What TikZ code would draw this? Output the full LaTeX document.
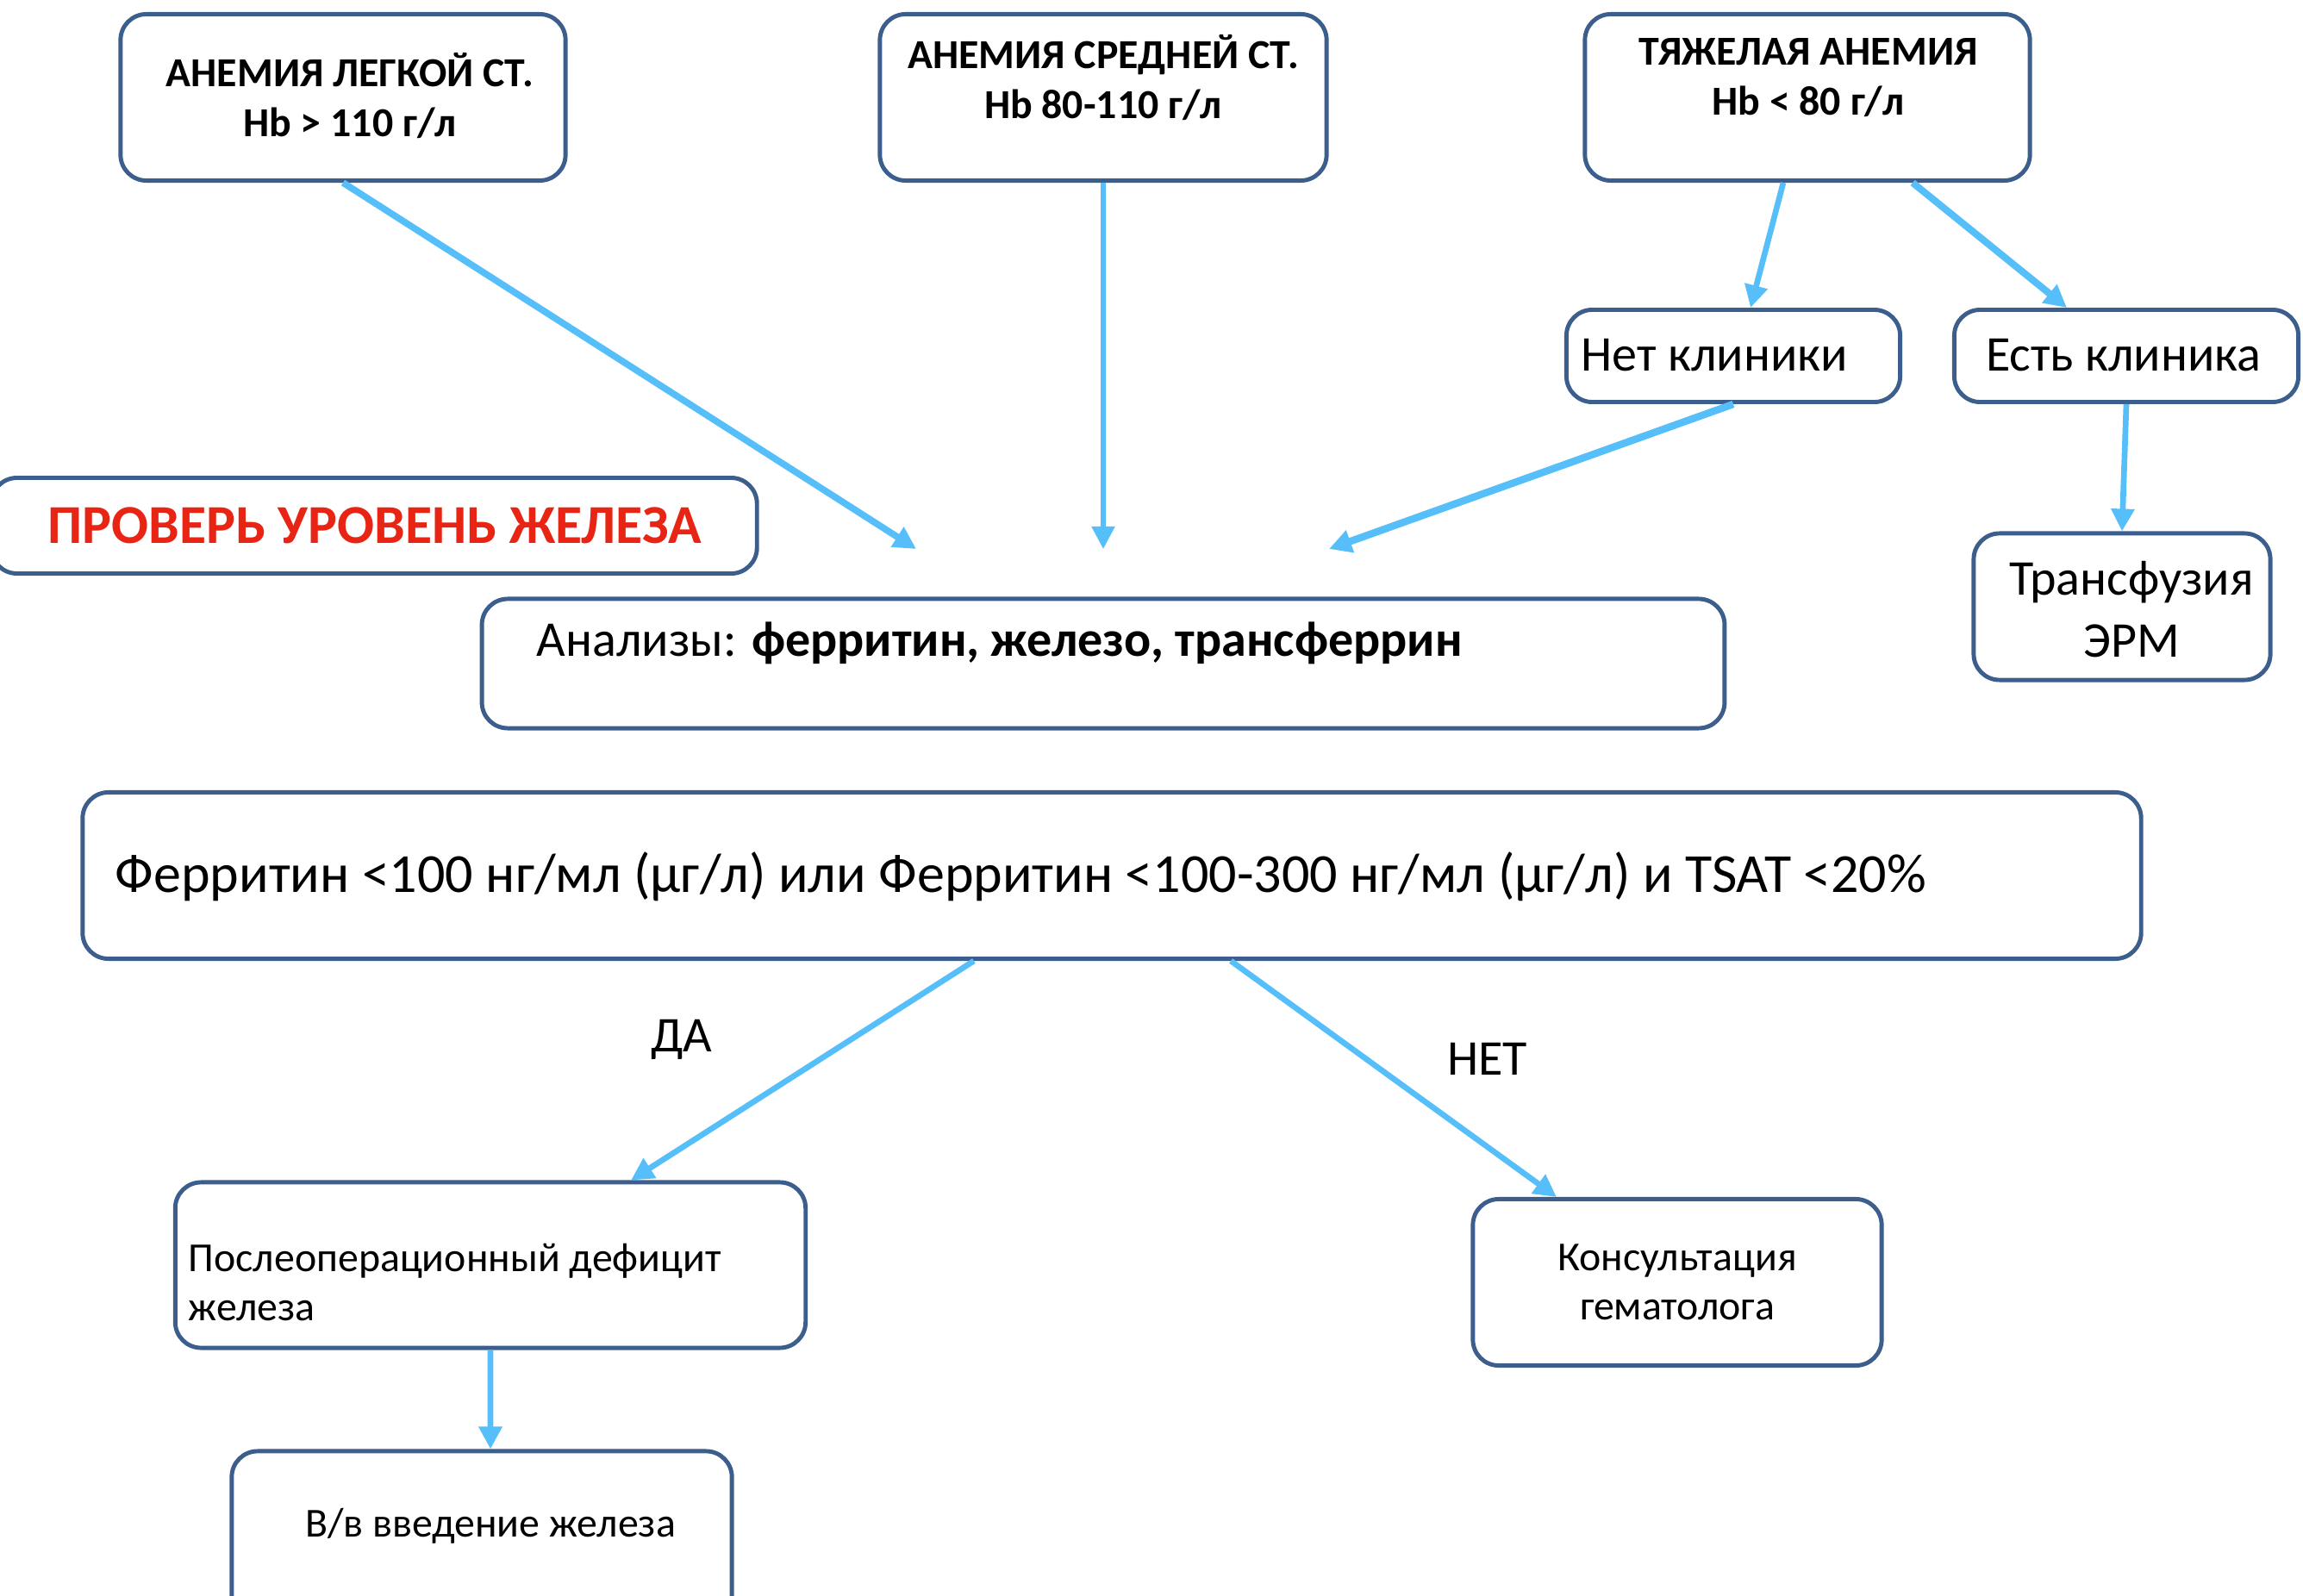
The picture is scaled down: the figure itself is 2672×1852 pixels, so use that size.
\documentclass[tikz,border=0pt]{standalone}
\usepackage{fontspec}
\setmainfont{Carlito}
\usetikzlibrary{arrows.meta}
\definecolor{boxblue}{RGB}{60,94,140}
\definecolor{arrowblue}{RGB}{86,191,250}
\definecolor{alarmred}{RGB}{232,36,20}

\begin{document}
\begin{tikzpicture}[x=0.01cm,y=-0.01cm,
  box/.style={draw=boxblue,line width=1.4pt,rounded corners=0.3cm,inner sep=0pt},
  txt/.style={inner sep=0pt,align=center,font=\fontsize{16.5}{20.5}\selectfont},
  head/.style={inner sep=0pt,align=center,font=\fontsize{13.6}{16.5}\selectfont\bfseries},
  small/.style={inner sep=0pt,font=\fontsize{13.6}{16.2}\selectfont},
  link/.style={draw=arrowblue,line width=1.9pt,-{Triangle[length=0.26cm,width=0.26cm]}},
  ]
\useasboundingbox (0,0) rectangle (2672,1852);

% степени анемии
\node[box,minimum width=5.16cm,minimum height=1.93cm] (light) at (398,113) {};
\node[head] (lighttxt) at (406,111) {АНЕМИЯ ЛЕГКОЙ СТ.\\Hb > 110 г/л};
\node[box,minimum width=5.18cm,minimum height=1.93cm] (mid) at (1280,113) {};
\node[head] (midtxt) at (1280,90) {АНЕМИЯ СРЕДНЕЙ СТ.\\Hb 80-110 г/л};
\node[box,minimum width=5.16cm,minimum height=1.93cm] (heavy) at (2097,113) {};
\node[head] (heavytxt) at (2098,90) {ТЯЖЕЛАЯ АНЕМИЯ\\Hb < 80 г/л};

% клиника
\node[box,minimum width=3.87cm,minimum height=1.07cm] (noclin) at (2011,413) {};
\node[txt,anchor=west] (noclintxt) at (1834,412) {Нет клиники};
\node[box,minimum width=3.99cm,minimum height=1.07cm] (clin) at (2467,413) {};
\node[txt] (clintxt) at (2464,412) {Есть клиника};
\node[box,minimum width=3.44cm,minimum height=1.70cm] (trans) at (2462,704) {};
\node[txt] (transtxt) at (2473,707) {Трансфузия\\ЭРМ};

% железо
\node[box,minimum width=8.88cm,minimum height=1.11cm] (check) at (434,610) {};
\node[txt,font=\fontsize{18.1}{21}\selectfont\bfseries,text=alarmred] (checktxt) at (435,610) {ПРОВЕРЬ УРОВЕНЬ ЖЕЛЕЗА};
\node[box,minimum width=14.41cm,minimum height=1.50cm] (tests) at (1280,770) {};
\node[txt,anchor=west] (teststxt) at (622,746) {Анализы: \textbf{ферритин, железо, трансферрин}};

\node[box,minimum width=23.87cm,minimum height=1.93cm] (ferr) at (1290,1016) {};
\node[txt,anchor=west,font=\fontsize{18.2}{21}\selectfont] (ferrtxt) at (133,1017) {Ферритин <100 нг/мл (µг/л) или Ферритин <100-300 нг/мл (µг/л) и TSAT <20\%};

\node[box,minimum width=7.31cm,minimum height=1.92cm] (post) at (569,1468) {};
\node[small,anchor=west,align=left] (posttxt) at (218,1488) {Послеоперационный дефицит\\железа};
\node[box,minimum width=4.74cm,minimum height=1.93cm] (cons) at (1946,1488) {};
\node[small,align=center] (constxt) at (1946,1488) {Консультация\\гематолога};
\node[box,minimum width=5.80cm,minimum height=1.96cm] (iv) at (559,1782) {};
\node[small] (ivtxt) at (569,1771) {В/в введение железа};

\node[txt] (yes) at (791,1206) {ДА};
\node[txt] (no) at (1726,1229) {НЕТ};

% стрелки
\coordinate (in1) at (1063,637);
\coordinate (in2) at (1280,637);
\coordinate (in3) at (1542,637);
\draw[link,line width=2.2pt] (light.south) -- (in1);
\draw[link,line width=1.5pt] (mid.south) -- (in2);
\draw[link] ([xshift=-0.28cm]heavy.south) -- ([xshift=0.2cm]noclin.north);
\draw[link,line width=2.3pt] ([xshift=1.22cm]heavy.south) -- ([xshift=-0.69cm]clin.north);
\draw[link,line width=2.4pt] (noclin.south) -- (in3);
\draw[link] (clin.south) -- (trans.north);
\draw[link] ([xshift=-1.6cm]ferr.south) -- ([xshift=1.63cm]post.north);
\draw[link] ([xshift=1.38cm]ferr.south) -- ([xshift=-1.4cm]cons.north);
\draw[link] (post.south) -- ([xshift=0.1cm]iv.north);
\end{tikzpicture}
\end{document}
